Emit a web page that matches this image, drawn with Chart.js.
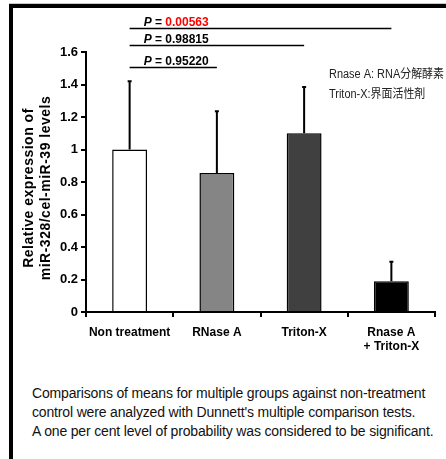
<!DOCTYPE html>
<html>
<head>
<meta charset="utf-8">
<script src="https://cdn.jsdelivr.net/npm/chart.js@4"></script>
<style>
  body{margin:0;width:446px;height:459px;background:#fff;position:relative;overflow:hidden;font-family:"Liberation Sans",Arial,sans-serif;}
  #topline{position:absolute;left:9px;top:3px;width:437px;height:1px;background:#c8c8c8;}
  #frame{position:absolute;left:9px;top:4px;width:433px;height:451px;border-left:4px solid #000;border-top:4px solid #000;border-bottom:1px solid #c8c8c8;}
  #wrap{position:absolute;left:0;top:0;width:446px;height:360px;}
  #note{position:absolute;left:32px;top:384px;font-size:14px;letter-spacing:-0.16px;line-height:19px;color:#111;white-space:nowrap;}
</style>
</head>
<body>
<div id="topline"></div>
<div id="frame"></div>
<div id="wrap"><canvas id="chart"></canvas></div>
<div id="note">
Comparisons of means for multiple groups against non-treatment<br>
control were analyzed with Dunnett's multiple comparison tests.<br>
A one per cent level of probability was considered to be significant.
</div>
<script>
/* DATA */
const categories=["Non treatment","RNase A","Triton-X",["Rnase A","+ Triton-X"]];
const means=[1.00,0.855,1.10,0.19];
const sdUpper=[0.42,0.38,0.285,0.12];
const barColors=["#ffffff","#858585","#404040","#000000"];
const pValues=["0.95220","0.98815","0.00563"];
const pTargets=[1,2,3];
const pColors=["#000","#000","#ff0000"];
const legendLines=["Rnase A: RNA分解酵素","Triton-X:界面活性剤"];
const yTitle=["Relative expression of","miR-328/cel-miR-39 levels"];

/* bracket heights in axis units */
const pLevels=[1.51,1.645,1.75];

const errorBars={
  id:"errorBars",
  afterDatasetsDraw(chart){
    const ctx=chart.ctx, y=chart.scales.y;
    const meta=chart.getDatasetMeta(0);
    ctx.save();
    ctx.strokeStyle="#000";
    ctx.lineWidth=2;
    meta.data.forEach((bar,i)=>{
      const top=y.getPixelForValue(means[i]+sdUpper[i]);
      const base=y.getPixelForValue(means[i]);
      ctx.beginPath();
      ctx.moveTo(bar.x,base);ctx.lineTo(bar.x,top);
      ctx.moveTo(bar.x-2,top);ctx.lineTo(bar.x+2,top);
      ctx.stroke();
    });
    ctx.restore();
  }
};

const pBrackets={
  id:"pBrackets",
  afterDraw(chart){
    const ctx=chart.ctx, x=chart.scales.x, y=chart.scales.y;
    const x0=x.getPixelForValue(0);
    ctx.save();
    pValues.forEach((p,i)=>{
      const ly=Math.round(y.getPixelForValue(pLevels[i]))+0.5;
      const x1=x.getPixelForValue(pTargets[i]);
      ctx.strokeStyle="#000";ctx.lineWidth=1.5;
      ctx.beginPath();ctx.moveTo(x0,ly);ctx.lineTo(x1,ly);ctx.stroke();
      let tx=x0+14;
      const ty=ly-3;
      ctx.textBaseline="alphabetic";ctx.fillStyle="#000";
      ctx.font="italic bold 12px 'Liberation Sans', Arial";
      ctx.fillText("P",tx,ty);tx+=ctx.measureText("P").width;
      ctx.font="bold 12px 'Liberation Sans', Arial";
      ctx.fillText(" = ",tx,ty);tx+=ctx.measureText(" = ").width;
      ctx.fillStyle=pColors[i];
      ctx.fillText(p,tx,ty);
    });
    // side note, squeezed like the original
    ctx.fillStyle="#222";
    ctx.font="12px 'Liberation Sans', 'Noto Sans CJK JP', Arial";
    const w=ctx.measureText(legendLines[0]).width;
    const sx=Math.min(1,115/w);
    legendLines.forEach((t,i)=>{
      ctx.save();
      ctx.translate(329,78+i*20);
      ctx.scale(sx,1);
      ctx.fillText(t,0,0);
      ctx.restore();
    });
    // y axis title, two lines, rotated
    const cy=(y.top+y.bottom)/2+6;
    ctx.fillStyle="#000";
    ctx.font="bold 14px 'Liberation Sans', Arial";
    ctx.letterSpacing="0.5px";
    ctx.textAlign="center";ctx.textBaseline="middle";
    yTitle.forEach((t,i)=>{
      ctx.save();
      ctx.translate(29+i*17,cy);
      ctx.rotate(-Math.PI/2);
      ctx.fillText(t,0,0);
      ctx.restore();
    });
    ctx.restore();
  }
};

new Chart(document.getElementById("chart"),{
  type:"bar",
  data:{
    labels:categories,
    datasets:[{
      data:means,
      backgroundColor:barColors,
      borderColor:"#000",
      borderWidth:1.5,
      barPercentage:0.4,
      categoryPercentage:1
    }]
  },
  options:{
    responsive:true,
    maintainAspectRatio:false,
    animation:false,
    layout:{padding:{left:0,top:52,right:11,bottom:0}},
    plugins:{legend:{display:false},tooltip:{enabled:false}},
    scales:{
      x:{
        grid:{drawOnChartArea:false,offset:true,tickLength:5,color:"#000",lineWidth:2},
        border:{color:"#000",width:2},
        ticks:{color:"#000",font:{family:"Liberation Sans",weight:"bold",size:12},padding:8,maxRotation:0},
        afterFit(s){s.height=48;}
      },
      y:{
        min:0,max:1.6,
        grid:{drawOnChartArea:false,tickLength:5,color:"#000",lineWidth:2},
        border:{color:"#000",width:2},
        ticks:{stepSize:0.2,color:"#000",font:{family:"Liberation Sans",weight:"bold",size:13},padding:3,
          callback:v=>+v.toFixed(1)+""},
        afterFit(s){s.width=86;}
      }
    }
  },
  plugins:[errorBars,pBrackets]
});
</script>
</body>
</html>
